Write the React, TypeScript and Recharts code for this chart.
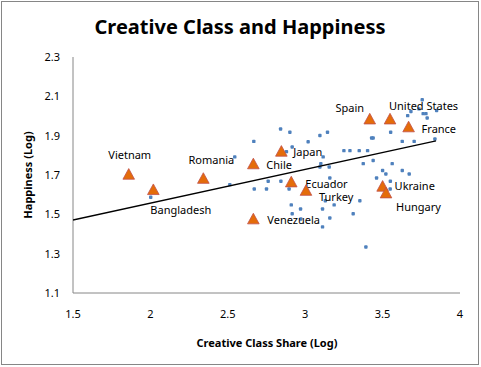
import React from 'react';
import { ScatterChart, Scatter, XAxis, YAxis } from 'recharts';

const countryNames = ['Vietnam', 'Bangladesh', 'Romania', 'Chile', 'Japan', 'Ecuador', 'Turkey', 'Venezuela', 'Spain', 'United States', 'France', 'Ukraine', 'Hungary'];
const countryX = [1.860, 2.019, 2.342, 2.665, 2.846, 2.910, 3.005, 2.665, 3.417, 3.548, 3.668, 3.500, 3.522];
const countryY = [1.702, 1.624, 1.681, 1.755, 1.819, 1.663, 1.620, 1.475, 1.983, 1.983, 1.943, 1.641, 1.607];

const otherX = [2.841, 2.901, 3.095, 3.144, 2.668, 3.019, 2.916, 2.879, 3.116, 3.250, 3.289, 3.349, 3.403, 3.429, 3.439, 3.552, 3.627, 3.704, 3.838, 3.101, 3.155, 3.095, 3.375, 3.439, 3.562, 3.500, 3.521, 3.627, 3.672, 3.461, 3.550, 3.549, 2.761, 2.843, 2.671, 2.750, 2.896, 3.159, 3.130, 3.187, 3.353, 2.910, 2.970, 3.112, 2.916, 3.310, 3.159, 2.972, 3.112, 3.392, 2.545, 2.513, 2.002, 3.756, 3.683, 3.662, 3.735, 3.762, 3.780, 3.849, 3.788];
const otherY = [1.934, 1.917, 1.901, 1.917, 1.871, 1.869, 1.842, 1.819, 1.792, 1.824, 1.824, 1.824, 1.824, 1.888, 1.888, 1.917, 1.871, 1.871, 1.883, 1.758, 1.741, 1.741, 1.758, 1.774, 1.758, 1.723, 1.705, 1.723, 1.705, 1.685, 1.668, 1.629, 1.668, 1.668, 1.629, 1.629, 1.629, 1.685, 1.569, 1.548, 1.569, 1.548, 1.527, 1.527, 1.503, 1.503, 1.481, 1.476, 1.436, 1.334, 1.792, 1.651, 1.587, 2.083, 2.023, 2.002, 2.036, 2.012, 2.012, 2.028, 1.990];

const trendX = [1.5, 3.845];
const trendY = [1.471, 1.873];

const xTicks = [1.5, 2, 2.5, 3, 3.5, 4];
const yTicks = [1.1, 1.3, 1.5, 1.7, 1.9, 2.1, 2.3];

const countryData = countryNames.map((name, i) => ({ name, x: countryX[i], y: countryY[i] }));
const otherData = otherX.map((x, i) => ({ x, y: otherY[i] }));
const trendData = trendX.map((x, i) => ({ x, y: trendY[i] }));

const FONT = '"Noto Sans", "DejaVu Sans", sans-serif';

const labelPlacement: Record<string, { dx: number; dy: number; anchor: 'start' | 'middle' | 'end' }> = {
  Vietnam: { dx: 1, dy: -20, anchor: 'middle' },
  Bangladesh: { dx: -3, dy: 20, anchor: 'start' },
  Romania: { dx: 8, dy: -19, anchor: 'middle' },
  Chile: { dx: 13, dy: 0, anchor: 'start' },
  Japan: { dx: 12, dy: 0, anchor: 'start' },
  Ecuador: { dx: 14, dy: 1, anchor: 'start' },
  Turkey: { dx: 13, dy: 6, anchor: 'start' },
  Venezuela: { dx: 14, dy: 0, anchor: 'start' },
  Spain: { dx: -20, dy: -12, anchor: 'middle' },
  'United States': { dx: -1, dy: -14, anchor: 'start' },
  France: { dx: 13, dy: 1, anchor: 'start' },
  Ukraine: { dx: 12, dy: -1, anchor: 'start' },
  Hungary: { dx: 10, dy: 13, anchor: 'start' },
};

const TriangleShape = (props: any) => {
  const { cx, cy, payload } = props;
  const pl = labelPlacement[payload.name] || { dx: 12, dy: 0, anchor: 'start' };
  return (
    <g>
      <polygon
        points={`${cx},${cy - 6} ${cx + 5.8},${cy + 4.6} ${cx - 5.8},${cy + 4.6}`}
        fill="#E46C0A"
        stroke="#C0504D"
        strokeWidth={0.8}
      />
      <text
        x={cx + pl.dx}
        y={cy + pl.dy}
        textAnchor={pl.anchor}
        dominantBaseline="central"
        fontSize={11}
        fontFamily={FONT}
        fill="#000"
      >
        {payload.name}
      </text>
    </g>
  );
};

const DotShape = (props: any) => {
  const { cx, cy } = props;
  return <rect x={cx - 1.7} y={cy - 1.7} width={3.4} height={3.4} rx={0.9} fill="#4F81BD" />;
};

const NoShape = () => <g />;

export default function App() {
  return (
    <div style={{ position: 'absolute', left: 0, top: 0, width: 481, height: 367, background: '#fff' }}>
      <ScatterChart width={481} height={367} margin={{ top: 57, right: 21, left: 13, bottom: 34 }}>
        <XAxis
          type="number"
          dataKey="x"
          domain={[1.5, 4]}
          ticks={xTicks}
          allowDataOverflow
          axisLine={{ stroke: '#868686' }}
          tickLine={false}
          tickSize={0}
          tickMargin={17}
          height={40}
          tick={{ fontSize: 11, fill: '#000', fontFamily: FONT }}
        />
        <YAxis
          type="number"
          dataKey="y"
          domain={[1.1, 2.3]}
          ticks={yTicks}
          allowDataOverflow
          axisLine={{ stroke: '#868686' }}
          tickLine={false}
          tickSize={0}
          tickMargin={13}
          width={60}
          tick={{ fontSize: 11, fill: '#000', fontFamily: FONT }}
        />
        <Scatter data={otherData} shape={DotShape} isAnimationActive={false} />
        <Scatter data={trendData} line={{ stroke: '#000', strokeWidth: 1.3 }} shape={NoShape} isAnimationActive={false} />
        <Scatter data={countryData} shape={TriangleShape} isAnimationActive={false} />
      </ScatterChart>
      <svg width={481} height={367} style={{ position: 'absolute', left: 0, top: 0, pointerEvents: 'none' }}>
        <rect x={1.5} y={1.5} width={477} height={363} fill="none" stroke="#868686" strokeWidth={1} />
        <text x={240} y={26} textAnchor="middle" dominantBaseline="central" fontSize={20} fontWeight="bold" fontFamily={FONT} fill="#000">
          Creative Class and Happiness
        </text>
        <text x={267} y={342} textAnchor="middle" dominantBaseline="central" fontSize={11} fontWeight="bold" fontFamily={FONT} fill="#000">
          Creative Class Share (Log)
        </text>
        <text
          x={27}
          y={175}
          textAnchor="middle"
          dominantBaseline="central"
          fontSize={11}
          fontWeight="bold"
          fontFamily={FONT}
          fill="#000"
          transform="rotate(-90 27 175)"
        >
          Happiness (Log)
        </text>
      </svg>
    </div>
  );
}
